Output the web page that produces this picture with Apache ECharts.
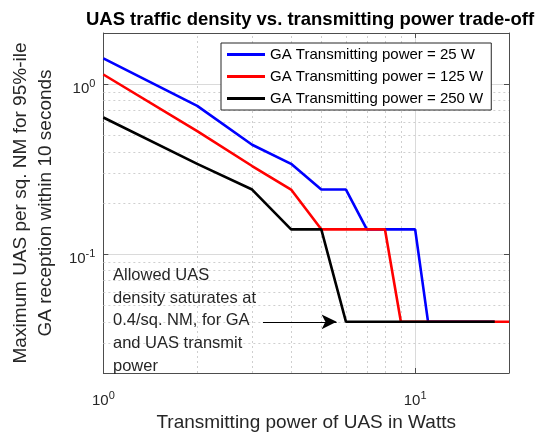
<!DOCTYPE html>
<html>
<head>
<meta charset="utf-8">
<script src="https://cdn.jsdelivr.net/npm/echarts@6/dist/echarts.min.js"></script>
<style>
  html, body { margin: 0; padding: 0; background: #fff; }
  #chart { width: 538px; height: 437px; }
</style>
</head>
<body>
<div id="chart"></div>
<script>
// values (log-log plot)
const seriesNames = [
  'GA Transmitting power = 25 W',
  'GA Transmitting power = 125 W',
  'GA Transmitting power = 250 W'
]
const blueX = [1, 2, 3, 4, 5, 6, 7, 10, 11, 18]
const blueY = [1.42, 0.745, 0.44, 0.34, 0.24, 0.24, 0.14, 0.14, 0.04, 0.04]
const redX = [1, 2, 3, 4, 5, 8, 9, 20]
const redY = [1.14, 0.53, 0.33, 0.24, 0.14, 0.14, 0.04, 0.04]
const blackX = [1, 2, 3, 4, 5, 6, 18]
const blackY = [0.637, 0.34, 0.24, 0.14, 0.14, 0.04, 0.04]

const minorX = [2, 3, 4, 5, 6, 7, 8, 9]
const minorY = [0.03, 0.04, 0.05, 0.06, 0.07, 0.08, 0.09, 0.2, 0.3, 0.4, 0.5, 0.6, 0.7, 0.8, 0.9]
const arrowFrom = [3.25, 0.04]
const arrowTo = [5.6, 0.04]
const noteLines = ['Allowed UAS', 'density saturates at', '0.4/sq. NM, for GA', 'and UAS transmit', 'power']

const font = "'Liberation Sans', Arial, Helvetica, sans-serif"
const frameColor = '#4d4d4d'

const pairs = (xs, ys) => xs.map((x, i) => [x, ys[i]])

// only label the decades, as 10^n
const powLabel = (v) => {
  const e = Math.log10(v)
  if (Math.abs(e - Math.round(e)) > 1e-6) return ''
  return '{b|10}{s|' + Math.round(e) + '}'
}
const richLabel = {
  b: { fontSize: 15, fontFamily: font, color: '#262626', padding: [10, 0, 0, 0] },
  s: { fontSize: 11, fontFamily: font, color: '#262626' }
}

const chart = echarts.init(document.getElementById('chart'))

const mainX = {
  type: 'log',
  logBase: 10,
  min: 1,
  max: 20,
  name: 'Transmitting power of UAS in Watts',
  nameLocation: 'middle',
  nameGap: 40,
  nameTextStyle: { fontSize: 19, fontFamily: font, color: '#262626' },
  axisLine: { show: true, onZero: false, lineStyle: { color: frameColor } },
  axisTick: { inside: true, length: 5, lineStyle: { color: frameColor } },
  axisLabel: { formatter: powLabel, rich: richLabel, margin: 10, showMinLabel: true, showMaxLabel: true },
  splitLine: { show: true, lineStyle: { color: '#dadada', width: 1 } }
}
const mainY = {
  type: 'log',
  logBase: 10,
  min: 0.02,
  max: 2,
  name: 'Maximum UAS per sq. NM for 95%-ile\nGA reception within 10 seconds',
  nameLocation: 'middle',
  nameGap: 42,
  nameTextStyle: { fontSize: 19, fontFamily: font, color: '#262626', lineHeight: 25 },
  axisLine: { show: true, onZero: false, lineStyle: { color: frameColor } },
  axisTick: { inside: true, length: 5, lineStyle: { color: frameColor } },
  axisLabel: { formatter: powLabel, rich: richLabel, margin: 8 },
  splitLine: { show: true, lineStyle: { color: '#dadada', width: 1 } }
}

const lineSeries = (name, color, data, extra) => Object.assign({
  name: name,
  type: 'line',
  data: data,
  symbol: 'none',
  lineStyle: { color: color, width: 2.6 },
  itemStyle: { color: color },
  z: 3,
  animation: false
}, extra || {})

const option = {
  animation: false,
  title: {
    text: 'UAS traffic density vs. transmitting power trade-off',
    left: 305,
    textAlign: 'center',
    top: 5,
    textStyle: { fontSize: 18.5, fontWeight: 'bold', fontFamily: font, color: '#000' }
  },
  grid: { left: 101, right: 29, top: 33, bottom: 63, show: true, backgroundColor: '#fff', borderWidth: 0 },
  legend: {
    data: seriesNames,
    orient: 'vertical',
    left: 221,
    top: 43,
    itemWidth: 38,
    itemHeight: 3,
    itemGap: 7,
    icon: 'rect',
    padding: [4, 8, 4, 6],
    backgroundColor: '#fff',
    borderColor: '#262626',
    borderWidth: 1,
    borderRadius: 0,
    textStyle: { fontSize: 15, fontFamily: font, color: '#000' }
  },
  xAxis: [
    mainX,
    { type: 'log', logBase: 10, min: 1, max: 20, position: 'top',
      axisLine: { show: true, onZero: false, lineStyle: { color: frameColor } },
      axisTick: { inside: true, length: 5, lineStyle: { color: frameColor } },
      axisLabel: { show: false }, splitLine: { show: false } }
  ],
  yAxis: [
    mainY,
    { type: 'log', logBase: 10, min: 0.02, max: 2, position: 'right',
      axisLine: { show: true, onZero: false, lineStyle: { color: frameColor } },
      axisTick: { inside: true, length: 5, lineStyle: { color: frameColor } },
      axisLabel: { show: false }, splitLine: { show: false } }
  ],
  graphic: [
    {
      type: 'text',
      left: 113,
      top: 264,
      z: 10,
      style: {
        text: noteLines.join('\n'),
        fontSize: 16.5,
        lineHeight: 22.7,
        fontFamily: font,
        fill: '#262626'
      }
    }
  ],
  series: [
    {
      // dotted minor grid, drawn under the data lines
      name: 'minor grid',
      type: 'line',
      data: [],
      silent: true,
      markLine: {
        silent: true,
        symbol: 'none',
        z: 1,
        label: { show: false },
        lineStyle: { color: '#cfcfcf', type: [2, 3], width: 1 },
        data: minorX.map(v => ({ xAxis: v })).concat(minorY.map(v => ({ yAxis: v })))
      }
    },
    lineSeries(seriesNames[0], '#0000ff', pairs(blueX, blueY)),
    lineSeries(seriesNames[1], '#ff0000', pairs(redX, redY)),
    lineSeries(seriesNames[2], '#000000', pairs(blackX, blackY), {
      markLine: {
        silent: true,
        symbol: ['none', 'arrow'],
        symbolSize: [11, 15],
        label: { show: false },
        lineStyle: { color: '#000', width: 1.2, type: 'solid' },
        data: [[{ coord: arrowFrom }, { coord: arrowTo }]]
      }
    })
  ]
}

chart.setOption(option)
</script>
</body>
</html>
